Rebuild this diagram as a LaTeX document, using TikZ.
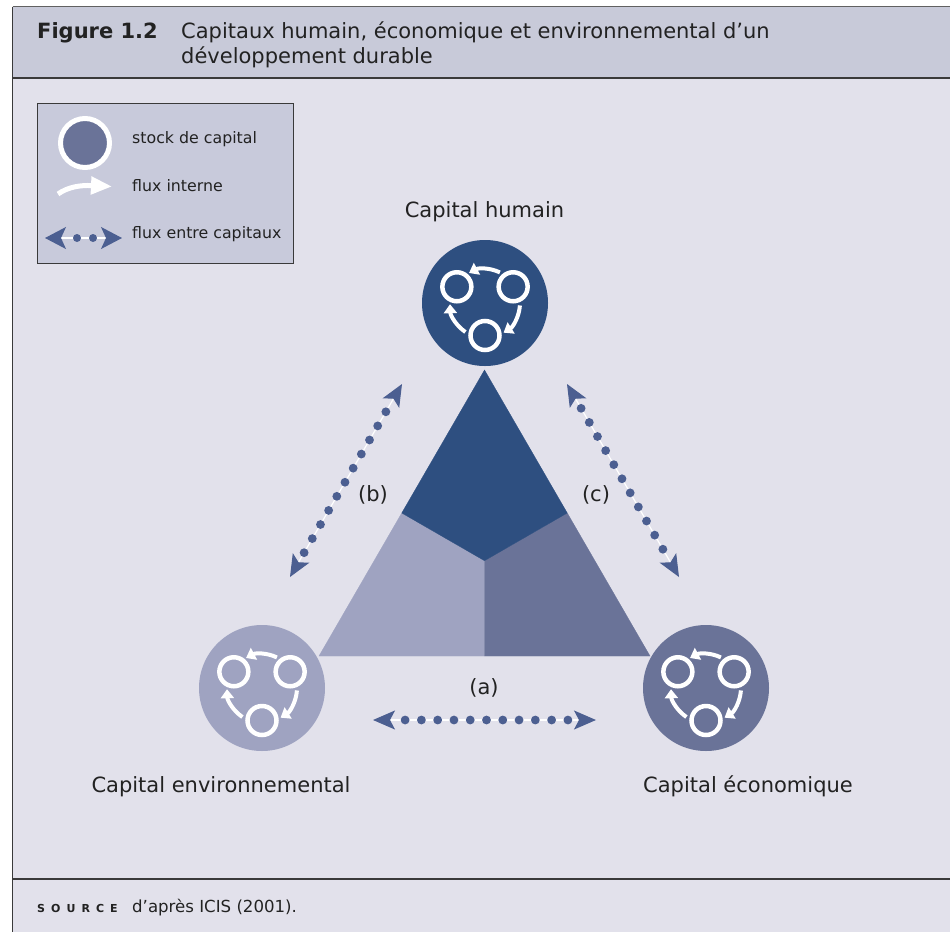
\documentclass[tikz,border=0pt]{standalone}
\usepackage{fontspec}
\setmainfont{DejaVu Sans}
\newfontfamily\srcfont[LetterSpace=55]{DejaVu Sans}
\usetikzlibrary{arrows.meta,calc}
\definecolor{bgc}{HTML}{E2E1EB}
\definecolor{hdr}{HTML}{C8CAD9}
\definecolor{legc}{HTML}{C8CADB}
\definecolor{dkb}{HTML}{2E4F80}
\definecolor{mdb}{HTML}{6A7398}
\definecolor{ltb}{HTML}{9FA3C1}
\definecolor{arrowc}{HTML}{4C5F91}
\definecolor{txt}{HTML}{222222}
\definecolor{frm}{HTML}{3A3A3A}
\tikzset{
  lbl/.style={text=txt, inner sep=0pt, font=\fontsize{21}{25}\selectfont},
  leg/.style={text=txt, inner sep=0pt, anchor=base west, font=\fontsize{15.8}{18}\selectfont},
  ttl/.style={text=txt, inner sep=0pt, anchor=base west, font=\fontsize{21}{25}\selectfont},
  capc/.style={circle, minimum size=126pt, inner sep=0pt},
  smallc/.style={white, line width=4.5pt},
  flow/.style={white, line width=4pt, -{Triangle[length=9pt,width=13pt]}},
  xflow/.style={white, line width=1.2pt, {Stealth[color=arrowc,length=22pt,width=19pt,inset=5pt]}-{Stealth[color=arrowc,length=22pt,width=19pt,inset=5pt]}},
  icon/.pic={
    \foreach \a in {210,330,90} \draw[smallc] (\a:32.5) circle (14.5);
    \draw[flow] (-64:34) arc (-64:-118:34);
    \draw[flow] (4:35) arc (4:58:35);
    \draw[flow] (124:35) arc (124:178:35);
  }
}
\begin{document}
\begin{tikzpicture}[x=1pt,y=-1pt]
\useasboundingbox (0,0) rectangle (950,932);
\fill[white] (0,0) rectangle (950,932);
% frame
\fill[bgc] (12.5,6.5) rectangle (950,932);
\fill[hdr] (12.5,6.5) rectangle (950,77.5);
\draw[frm!80, line width=1pt] (12.5,6.5) -- (950,6.5);
\draw[frm, line width=2pt] (12.5,77.5) -- (950,77.5);
\draw[frm, line width=1.2pt] (12.5,6.5) -- (12.5,932);
\draw[frm, line width=1.2pt] (12.5,879) -- (950,879);
% title
\node[ttl, font=\bfseries\fontsize{21}{25}\selectfont] (fig) at (37,38.5) {Figure 1.2};
\node[ttl] (title1) at (181,38.5) {Capitaux humain, économique et environnemental d’un};
\node[ttl] (title2) at (181,63) {développement durable};
% legend
\node[draw=frm, line width=1.2pt, fill=legc, minimum width=256.5pt, minimum height=160.5pt, inner sep=0pt, anchor=north west] (legbox) at (36.5,102.5) {};
\node[capc, minimum size=49pt, draw=white, line width=5pt, fill=mdb] (legcirc) at (85,143) {};
\node[leg] (legt1) at (132,143) {stock de capital};
\coordinate (lf1) at (58,194);
\coordinate (lf2) at (112,186.5);
\draw[white, line width=5pt, -{Triangle[length=21pt,width=17pt]}] (lf1) .. controls (68,187) and (80,185) .. (lf2);
\node[leg] (legt2) at (132,191) {flux interne};
\coordinate (lx1) at (45,238);
\coordinate (lx2) at (122,238);
\draw[white, line width=1.2pt, {Stealth[color=arrowc,length=21pt,width=22pt,inset=5pt]}-{Stealth[color=arrowc,length=21pt,width=22pt,inset=5pt]}] (lx1) -- (lx2);
\fill[arrowc] (77,238) circle (4) (93,238) circle (4);
\node[leg] (legt3) at (132,238) {flux entre capitaux};
% triangle
\coordinate (T) at (484.5,370);
\coordinate (L) at (319,656);
\coordinate (R) at (650,656);
\coordinate (G) at (484.5,560.7);
\coordinate (mL) at ($(T)!0.5!(L)$);
\coordinate (mR) at ($(T)!0.5!(R)$);
\coordinate (mB) at ($(L)!0.5!(R)$);
\filldraw[ltb, line width=0.3pt] (mL) -- (G) -- (mB) -- (L) -- cycle;
\filldraw[mdb, line width=0.3pt] (mR) -- (R) -- (mB) -- (G) -- cycle;
\filldraw[dkb, line width=0.3pt] (T) -- (mR) -- (G) -- (mL) -- cycle;
% capital circles
\node[capc, fill=dkb] (hum) at (485,303) {};
\node[capc, fill=ltb] (env) at (262,688) {};
\node[capc, fill=mdb] (eco) at (706,688) {};
\pic at (hum) {icon};
\pic at (env) {icon};
\pic at (eco) {icon};
\node[lbl, anchor=base] (humt) at (484.5,217.5) {Capital humain};
\node[lbl, anchor=base] (envt) at (221,792.5) {Capital environnemental};
\node[lbl, anchor=base] (ecot) at (748,792.5) {Capital économique};
% flows between capitals
\coordinate (a1) at (373,720);
\coordinate (a2) at (596,720);
\coordinate (b1) at (402,384);
\coordinate (b2) at (290,577);
\coordinate (c1) at (679,577);
\coordinate (c2) at (567,384);
\foreach \p/\q in {a1/a2,b1/b2,c1/c2}{
  \draw[xflow] (\p) -- (\q);
  \foreach \i in {0,...,10}
    \fill[arrowc] ($(\p)!{0.144+0.073*\i}!(\q)$) circle (4.4);
}
\node[lbl, anchor=center] (la) at (484,688) {(a)};
\node[lbl, anchor=center] (lb) at (373,495) {(b)};
\node[lbl, anchor=center] (lc) at (596,495) {(c)};
% source
\node[text=txt, inner sep=0pt, anchor=base west, font=\srcfont\bfseries\fontsize{11}{12}\selectfont] (srck) at (37,912) {SOURCE};
\node[text=txt, inner sep=0pt, anchor=base west, font=\fontsize{16.6}{19}\selectfont] (src) at (132,912) {d’après ICIS (2001).};
\end{tikzpicture}
\end{document}
